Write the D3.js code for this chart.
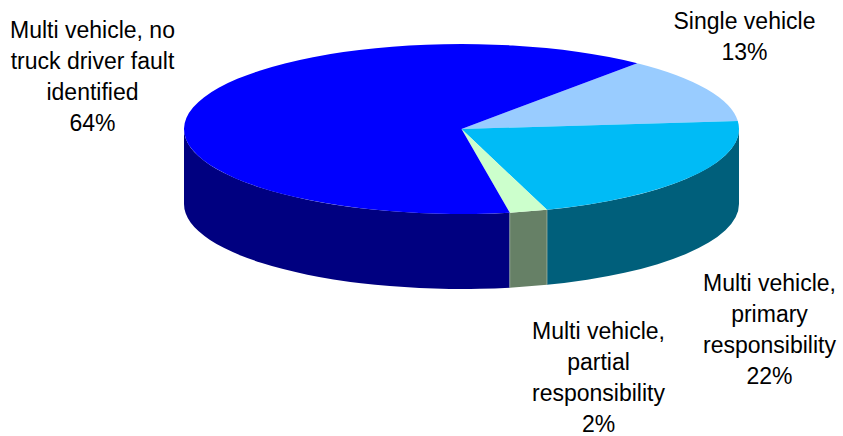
<!DOCTYPE html>
<html>
<head>
<meta charset="utf-8">
<script src="https://cdn.jsdelivr.net/npm/d3@7"></script>
<style>
html,body{margin:0;padding:0;background:#fff}
svg{display:block}
text{font-family:"Liberation Sans",Arial,sans-serif;font-size:23px;fill:#000}
</style>
</head>
<body>
<svg id="chart" width="843" height="436"></svg>
<script>
const categories = ["Single vehicle","Multi vehicle, primary responsibility","Multi vehicle, partial responsibility","Multi vehicle, no truck driver fault identified"];
const values = [12.6, 21.5, 2.2, 63.7];
const percentLabels = ["13%","22%","2%","64%"];
const topColors = ["#99CCFF","#00BBF6","#CCFFCC","#0000FF"];
const sideColors = ["#4D6680","#005F7B","#668066","#000080"];
const labelLines = [["Single vehicle"],["Multi vehicle,","primary","responsibility"],["Multi vehicle,","partial","responsibility"],["Multi vehicle, no","truck driver fault","identified"]];
const labelAnchors = [[744.5,29],[769.5,291],[598.5,339],[92.5,38]];

const cx=461.5, cy=129, rx=277.5, ry=85, depth=75, lineStep=31;
const svg=d3.select("#chart");
const pie=d3.pie().sort(null).value((d,i)=>values[i]).startAngle(39.3*Math.PI/180).endAngle((39.3+360)*Math.PI/180);
const arcs=pie(categories);
const px=a=>cx+rx*Math.sin(a), py=a=>cy-ry*Math.cos(a);

// front wall: the visible part of each slice lies where the rim faces down (angle 90..270 deg)
const sideG=svg.append("g");
arcs.forEach((d,i)=>{
  const lo=Math.max(d.startAngle,Math.PI/2), hi=Math.min(d.endAngle,3*Math.PI/2);
  if(hi<=lo) return;
  const big=(hi-lo)>Math.PI?1:0;
  const p=`M${px(lo)},${py(lo)}A${rx},${ry} 0 ${big} 1 ${px(hi)},${py(hi)}L${px(hi)},${py(hi)+depth}A${rx},${ry} 0 ${big} 0 ${px(lo)},${py(lo)+depth}Z`;
  sideG.append("path").attr("d",p).attr("fill",sideColors[i]);
});
// thin pale separators on the small wall
const pIdx=2;
[arcs[pIdx].startAngle,arcs[pIdx].endAngle].forEach(a=>{
  sideG.append("line").attr("x1",px(a)).attr("x2",px(a)).attr("y1",py(a)).attr("y2",py(a)+depth)
    .attr("stroke","#9DB09D").attr("stroke-width",0.8);
});

// top face: circular d3 arcs squashed into an ellipse
const arc=d3.arc().innerRadius(0).outerRadius(rx);
svg.append("g").attr("transform",`translate(${cx},${cy}) scale(1,${ry/rx})`)
  .selectAll("path").data(arcs).join("path")
  .attr("d",arc).attr("fill",(d,i)=>topColors[i]);

// labels
categories.forEach((c,i)=>{
  const t=svg.append("text").attr("text-anchor","middle");
  labelLines[i].concat([percentLabels[i]]).forEach((s,k)=>{
    t.append("tspan").attr("x",labelAnchors[i][0]).attr("y",labelAnchors[i][1]+k*lineStep).text(s);
  });
});
</script>
</body>
</html>
